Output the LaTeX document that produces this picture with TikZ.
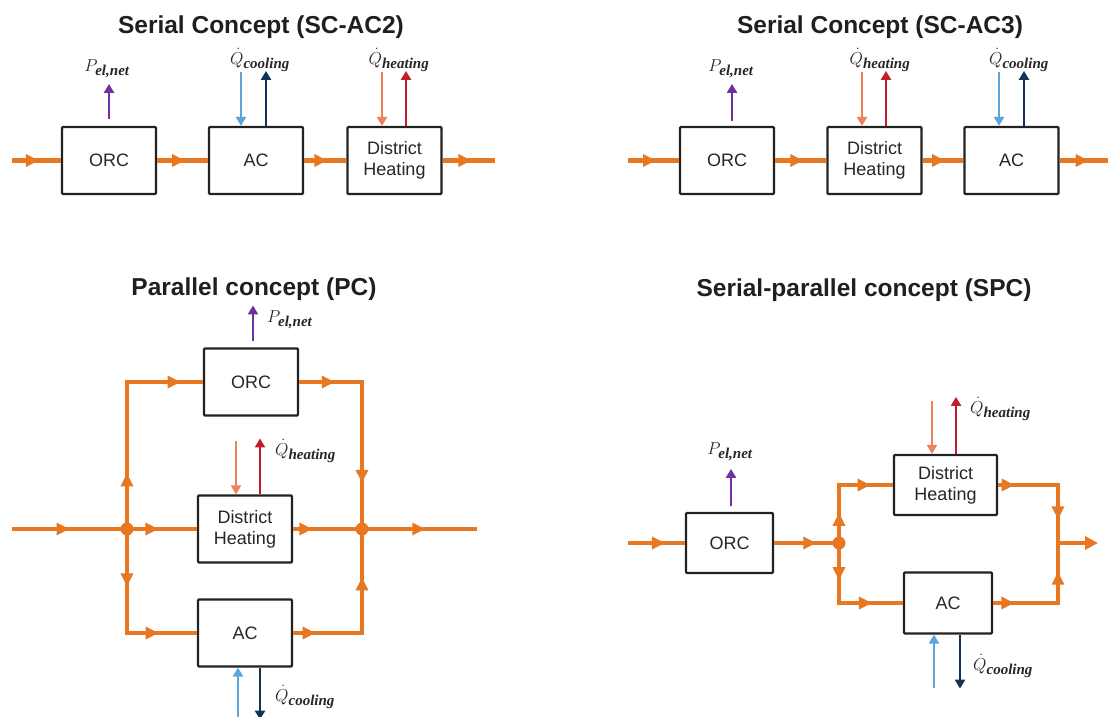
\documentclass[tikz,border=0pt]{standalone}
\usepackage{fontspec}
\setmainfont{Liberation Sans}
\newfontfamily\subf{Liberation Serif}
\newcommand{\lblsub}[1]{\mbox{\fontsize{15}{15}\selectfont\subf\bfseries\itshape #1}}
\usetikzlibrary{arrows.meta,decorations.markings,calc}
\definecolor{orng}{RGB}{232,119,34}
\definecolor{pur}{RGB}{112,48,160}
\definecolor{lblue}{RGB}{93,165,218}
\definecolor{navy}{RGB}{20,50,85}
\definecolor{salmon}{RGB}{240,128,90}
\definecolor{hred}{RGB}{192,30,45}
\definecolor{boxline}{RGB}{34,34,34}
\tikzset{
  box/.style={draw=boxline, line width=2.2pt, fill=white, rounded corners=1pt,
    minimum width=94pt, minimum height=67pt, inner sep=0pt, align=center,
    text=black!85, font=\fontsize{18}{21}\selectfont},
  flow/.style={draw=orng, line width=4.5pt, line join=miter},
  fa/.style={postaction={decorate,decoration={markings,
    mark=at position #1 with {\arrow{Triangle[length=13pt,width=12pt]}}}}},
  small/.style={line width=2.8pt, -{Triangle[length=9pt,width=10pt]}},
  pel/.style={small, draw=pur},
  cin/.style={small, draw=lblue},
  cout/.style={small, draw=navy},
  hin/.style={small, draw=salmon},
  hout/.style={small, draw=hred},
  lbl/.style={font=\fontsize{19}{20}\selectfont, inner sep=0pt, text=black!85},
  ttl/.style={font=\fontsize{24.5}{28}\selectfont\bfseries, text=black!88, inner sep=0pt},
  junc/.style={circle, fill=orng, minimum size=13pt, inner sep=0pt}
}
\begin{document}
\begin{tikzpicture}[x=1pt,y=-1pt]
\useasboundingbox (0,0) rectangle (1108,717);

% ---------------- Panel 1: SC-AC2 ----------------
\node[ttl] (t1) at (261,27) {Serial Concept (SC-AC2)};
\coordinate (in1) at (12,160.5);
\coordinate (out1) at (495,160.5);
\node[box] (orc1) at (109,160.5) {ORC};
\node[box] (ac1) at (256,160.5) {AC};
\node[box] (dh1) at (394.5,160.5) {District\\Heating};
\draw[flow,fa=0.55] (in1) -- (orc1.west);
\draw[flow,fa=0.55] (orc1.east) -- (ac1.west);
\draw[flow,fa=0.55] (ac1.east) -- (dh1.west);
\draw[flow,fa=0.55] (dh1.east) -- (out1);
\draw[pel] ([yshift=7pt]orc1.north) -- ++(0,-35);
\node[lbl] (p1) at (107,69) {$P_{\lblsub{el,net}}$};
\draw[cin] ($(ac1.north)+(-15,-54)$) -- ([xshift=-15pt]ac1.north);
\draw[cout] ([xshift=10pt]ac1.north) -- ++(0,-55);
\node[lbl] (qc1) at (260,60) {$\dot{Q}_{\lblsub{cooling}}$};
\draw[hin] ($(dh1.north)+(-12.5,-54)$) -- ([xshift=-12.5pt]dh1.north);
\draw[hout] ([xshift=11.5pt]dh1.north) -- ++(0,-55);
\node[lbl] (qh1) at (399,60) {$\dot{Q}_{\lblsub{heating}}$};

% ---------------- Panel 2: SC-AC3 ----------------
\node[ttl] (t2) at (880,27) {Serial Concept (SC-AC3)};
\coordinate (in2) at (628,160.5);
\coordinate (out2) at (1108,160.5);
\node[box] (orc2) at (727,160.5) {ORC};
\node[box] (dh2) at (874.5,160.5) {District\\Heating};
\node[box] (ac2) at (1011.5,160.5) {AC};
\draw[flow,fa=0.55] (in2) -- (orc2.west);
\draw[flow,fa=0.55] (orc2.east) -- (dh2.west);
\draw[flow,fa=0.55] (dh2.east) -- (ac2.west);
\draw[flow,fa=0.6] (ac2.east) -- (out2);
\draw[pel] ($(orc2.north)+(5,-5)$) -- ++(0,-37);
\node[lbl] (p2) at (731,69) {$P_{\lblsub{el,net}}$};
\draw[hin] ($(dh2.north)+(-12.5,-54)$) -- ([xshift=-12.5pt]dh2.north);
\draw[hout] ([xshift=11.5pt]dh2.north) -- ++(0,-55);
\node[lbl] (qh2) at (880,60) {$\dot{Q}_{\lblsub{heating}}$};
\draw[cin] ($(ac2.north)+(-12.5,-54)$) -- ([xshift=-12.5pt]ac2.north);
\draw[cout] ([xshift=12.5pt]ac2.north) -- ++(0,-55);
\node[lbl] (qc2) at (1019,60) {$\dot{Q}_{\lblsub{cooling}}$};

% ---------------- Panel 3: PC ----------------
\node[ttl] (t3) at (254,289) {Parallel concept (PC)};
\coordinate (in3) at (12,529);
\coordinate (out3) at (477,529);
\node[box] (orc3) at (251,382) {ORC};
\node[box] (dh3) at (245,529) {District\\Heating};
\node[box] (ac3) at (245,633) {AC};
\draw[flow,fa=0.5] (in3) -- (127,529);
\draw[flow,fa=0.45] (127,529) -- (dh3.west);
\draw[flow,fa=0.28] (dh3.east) -- (362,529);
\draw[flow,fa=0.55] (362,529) -- (out3);
\draw[flow,fa=0.25,fa=0.9] (127,529) |- (orc3.west);
\draw[flow,fa=0.17,fa=0.78] (orc3.east) -| (362,529);
\draw[flow,fa=0.33,fa=0.78] (127,529) |- (ac3.west);
\draw[flow,fa=0.13,fa=0.72] (ac3.east) -| (362,529);
\node[junc] (j3a) at (127,529) {};
\node[junc] (j3b) at (362,529) {};
\draw[pel] ([xshift=2pt,yshift=6pt]orc3.north) -- ++(0,-36);
\node[lbl, anchor=west] (p3) at (267,320) {$P_{\lblsub{el,net}}$};
\draw[hin] ($(dh3.north)+(-9,-53)$) -- ([xshift=-9pt]dh3.north);
\draw[hout] ([xshift=15pt]dh3.north) -- ++(0,-56);
\node[lbl, anchor=west] (qh3) at (275,451) {$\dot{Q}_{\lblsub{heating}}$};
\draw[cin] ($(ac3.south)+(-7,52)$) -- ([xshift=-7pt]ac3.south);
\draw[cout] ([xshift=15pt]ac3.south) -- ++(0,52);
\node[lbl, anchor=west] (qc3) at (275,697) {$\dot{Q}_{\lblsub{cooling}}$};

% ---------------- Panel 4: SPC ----------------
\node[ttl] (t4) at (864,290) {Serial-parallel concept (SPC)};
\coordinate (in4) at (628,543);
\coordinate (r4) at (1058,543);
\coordinate (out4) at (1098,543);
\node[box, minimum width=87pt, minimum height=60pt] (orc4) at (729.5,543) {ORC};
\node[box, minimum width=103pt, minimum height=60pt] (dh4) at (945.5,485) {District\\Heating};
\node[box, minimum width=88pt, minimum height=61pt] (ac4) at (948,603) {AC};
\draw[flow,fa=0.65] (in4) -- (orc4.west);
\draw[flow,fa=0.65] (orc4.east) -- (839,543);
\draw[flow,fa=0.27,fa=0.8] (839,543) |- (dh4.west);
\draw[flow,fa=0.3,fa=0.75] (839,543) |- (ac4.west);
\draw[flow,fa=0.14,fa=0.8] (dh4.east) -| (r4);
\draw[flow,fa=0.17,fa=0.77] (ac4.east) -| (r4);
\draw[flow,-{Triangle[length=13pt,width=13pt]}] (r4) -- (out4);
\node[junc] (j4) at (839,543) {};
\draw[pel] ([xshift=1.5pt,yshift=6pt]orc4.north) -- ++(0,-37);
\node[lbl] (p4) at (730,452) {$P_{\lblsub{el,net}}$};
\draw[hin] ($(dh4.north)+(-13.5,-53)$) -- ([xshift=-13.5pt]dh4.north);
\draw[hout] ([xshift=10.5pt]dh4.north) -- ++(0,-57);
\node[lbl, anchor=west] (qh4) at (970,409) {$\dot{Q}_{\lblsub{heating}}$};
\draw[cin] ($(ac4.south)+(-14,53)$) -- ([xshift=-14pt]ac4.south);
\draw[cout] ([xshift=12pt]ac4.south) -- ++(0,54);
\node[lbl, anchor=west] (qc4) at (973,666) {$\dot{Q}_{\lblsub{cooling}}$};
\end{tikzpicture}
\end{document}
